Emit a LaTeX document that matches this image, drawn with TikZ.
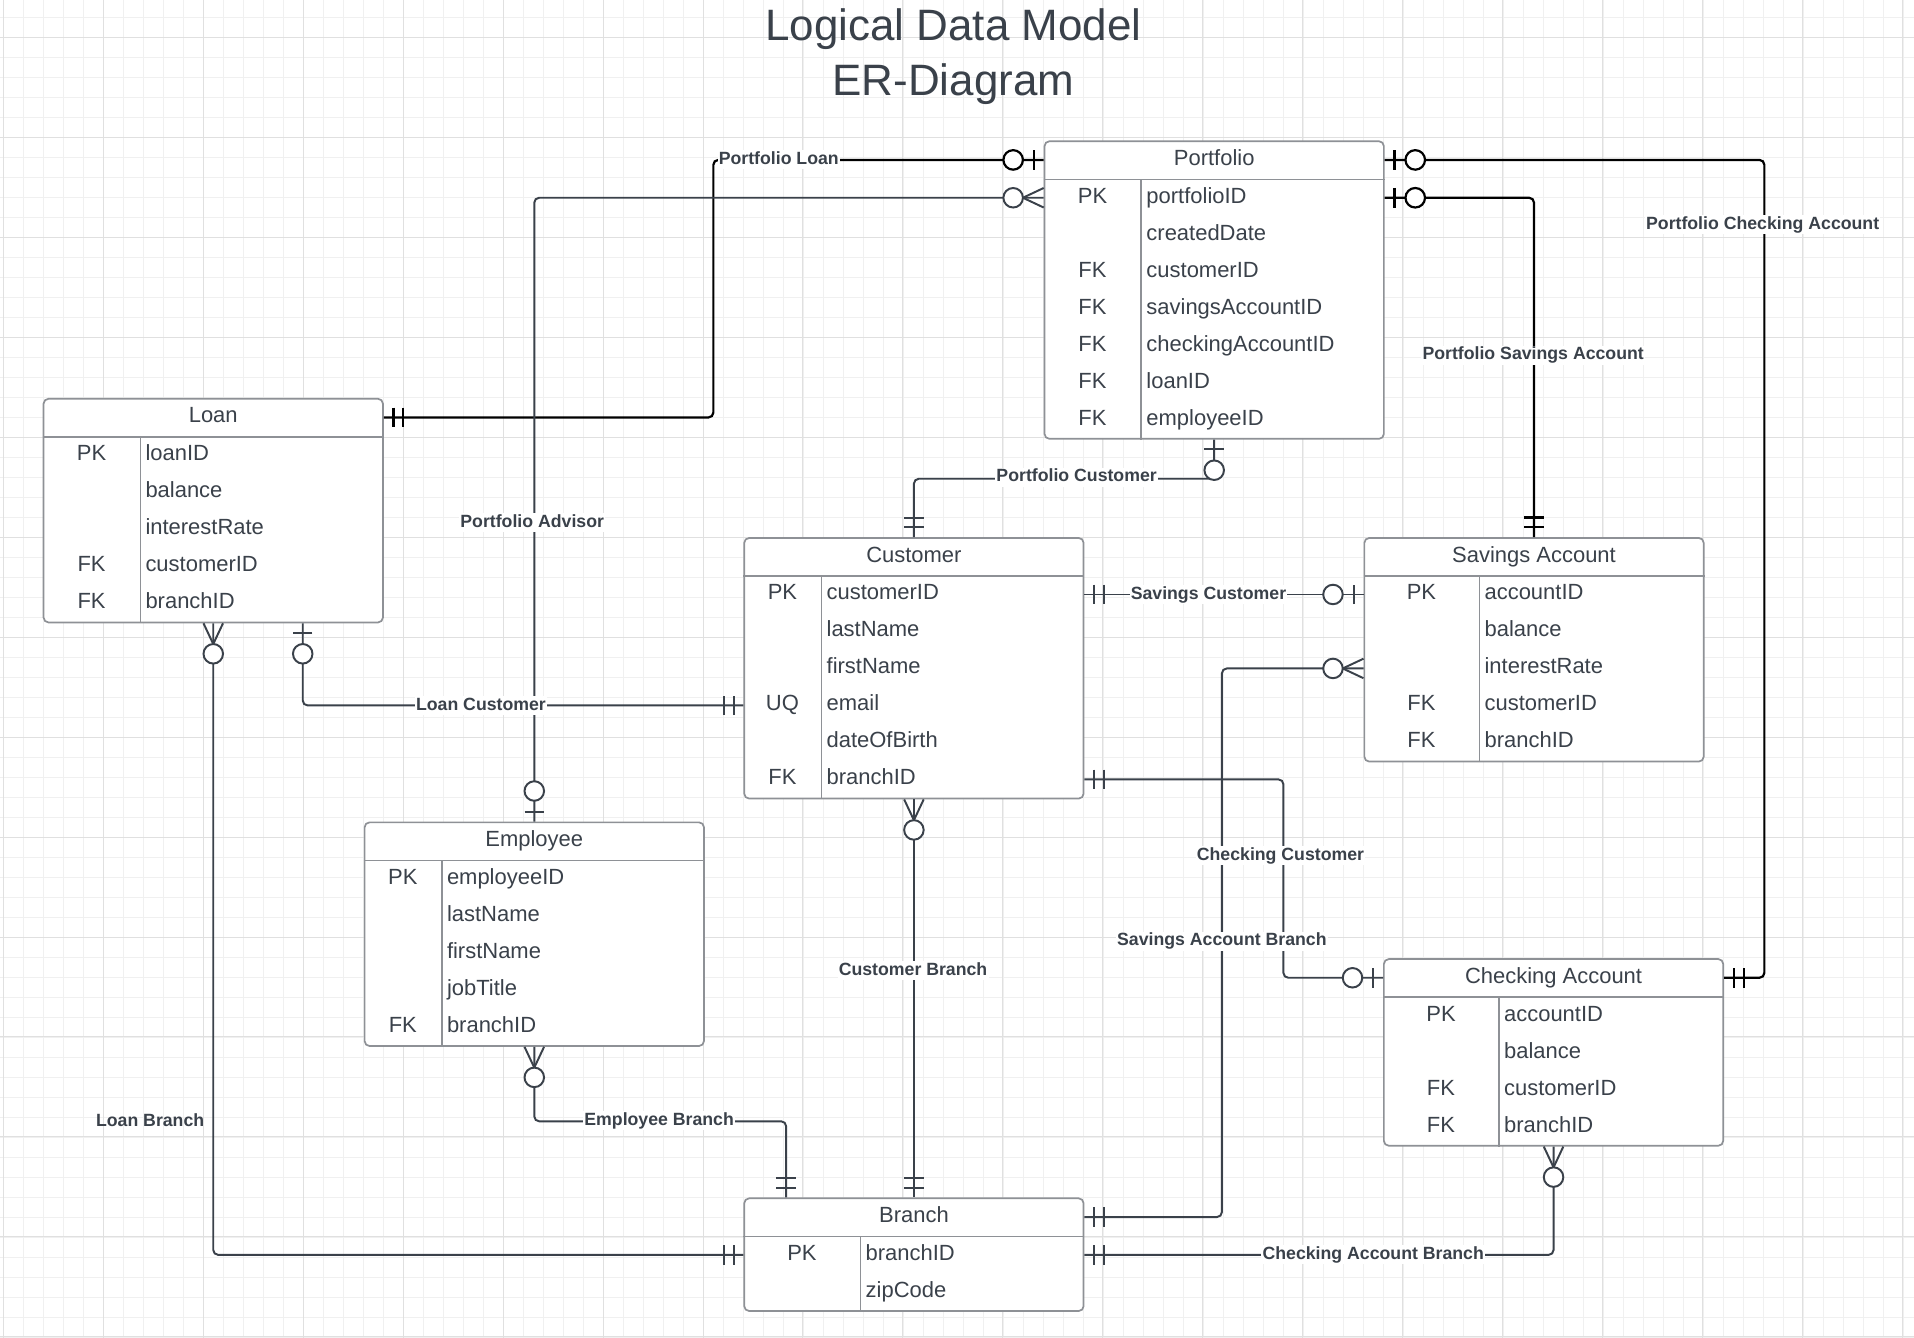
\documentclass[tikz,border=0pt]{standalone}
\usepackage{fontspec}
\setmainfont{Liberation Sans}
\usepackage{tikz}
\usetikzlibrary{calc}
\definecolor{ertext}{HTML}{3A414A}
\definecolor{erborder}{HTML}{8E9196}
\definecolor{erline}{HTML}{3A414A}
\definecolor{gridmin}{HTML}{F0F0F0}
\definecolor{gridmaj}{HTML}{E0E0E0}
\tikzset{
  gridminor/.style={draw=gridmin, line width=0.7pt},
  gridmajor/.style={draw=gridmaj, line width=0.8pt},
  maintitle/.style={anchor=base, text=ertext, font=\fontsize{36pt}{40pt}\selectfont},
  erent/.style={rectangle, anchor=north west, draw=erborder, fill=white, line width=1.4pt, rounded corners=4pt, inner sep=0pt},
  errule/.style={draw=erborder, line width=1.4pt},
  ertitle/.style={anchor=base, text=ertext, inner sep=0pt, font=\fontsize{18pt}{21pt}\selectfont},
  erkey/.style={anchor=base, text=ertext, inner sep=0pt, font=\fontsize{18pt}{21pt}\selectfont},
  erfield/.style={anchor=base west, text=ertext, inner sep=0pt, font=\fontsize{18pt}{21pt}\selectfont},
  rel/.style={draw=erline, line width=1.6pt, rounded corners=4pt},
  relbk/.style={draw=black, line width=1.8pt, rounded corners=4pt},
  erpen/.style={color=erline, line width=1.6pt},
  erpenbk/.style={color=black, line width=1.8pt},
  rellabel/.style={fill=white, text=ertext, inner sep=1pt, text height=10.5pt, text depth=3pt, font=\bfseries\fontsize{14.5pt}{17pt}\selectfont},
  erone/.pic={\draw (8,-8) -- (8,8) (16,-8) -- (16,8);},
  erzone/.pic={\draw (8,-8) -- (8,8); \draw[fill=white] (25,0) circle (8pt);},
  erzmany/.pic={\draw (0,-8) -- (17,0) -- (0,8); \draw[fill=white] (25,0) circle (8pt);},
}
% name, corner, width, height, key width, title, rows
\newcommand{\erbox}[7]{%
  \node[erent, minimum width=#3, minimum height=#4] (#1) at #2 {};
  \draw[errule] ([yshift=-32pt]#1.north west) -- ([yshift=-32pt]#1.north east);
  \draw[errule] ([xshift=#5, yshift=-32pt]#1.north west) -- ([xshift=#5]#1.south west);
  \node[ertitle] (#1-t) at ([yshift=-20.5pt]#1.north) {#6};
  \foreach \k/\f [count=\i from 0] in {#7} {
    \node[erkey] (#1-k\i) at ([xshift=#5/2, yshift=-51.5pt-30.3pt*\i]#1.north west) {\k};
    \node[erfield] (#1-f\i) at ([xshift=#5+4pt, yshift=-51.5pt-30.3pt*\i]#1.north west) {\f};
  }
}

\begin{document}
\begin{tikzpicture}[x=1pt,y=-1pt]
    \useasboundingbox (0,0) rectangle (1568,1096);
    \fill[white] (0,0) rectangle (1568,1096);

    % grid
    \foreach \i in {0,...,95} \draw[gridminor] ({2.46+16.385*\i},0) -- ({2.46+16.385*\i},1096);
    \foreach \j in {0,...,67} \draw[gridminor] (0,{-2.45+16.385*\j}) -- (1568,{-2.45+16.385*\j});
    \foreach \i in {0,...,19} \draw[gridmajor] ({2.46+81.92*\i},0) -- ({2.46+81.92*\i},1096);
    \foreach \j in {0,...,13} \draw[gridmajor] (0,{30.31+81.92*\j}) -- (1568,{30.31+81.92*\j});

    \node[maintitle] (ttl1) at (781,33) {Logical Data Model};
    \node[maintitle] (ttl2) at (781,78) {ER-Diagram};

    % entities
    \erbox{pf}{(855,115)}{278pt}{243.8pt}{80pt}{Portfolio}{PK/portfolioID, /createdDate, FK/customerID, FK/savingsAccountID, FK/checkingAccountID, FK/loanID, FK/employeeID}
    \erbox{ln}{(35,326)}{278pt}{183.2pt}{80pt}{Loan}{PK/loanID, /balance, /interestRate, FK/customerID, FK/branchID}
    \erbox{cu}{(609,440)}{278pt}{213.5pt}{64pt}{Customer}{PK/customerID, /lastName, /firstName, UQ/email, /dateOfBirth, FK/branchID}
    \erbox{sa}{(1117,440)}{278pt}{183.2pt}{95pt}{Savings Account}{PK/accountID, /balance, /interestRate, FK/customerID, FK/branchID}
    \erbox{em}{(298,673)}{278pt}{183.2pt}{64pt}{Employee}{PK/employeeID, /lastName, /firstName, /jobTitle, FK/branchID}
    \erbox{ca}{(1133,785)}{278pt}{152.9pt}{95pt}{Checking Account}{PK/accountID, /balance, FK/customerID, FK/branchID}
    \erbox{br}{(609,981)}{278pt}{92.3pt}{96pt}{Branch}{PK/branchID, /zipCode}

    % connector ends
    \coordinate (pf-wt) at ([yshift=-16pt]pf.north west);
    \coordinate (pf-w0) at ([yshift=-47pt]pf.north west);
    \coordinate (pf-et) at ([yshift=-16pt]pf.north east);
    \coordinate (pf-e0) at ([yshift=-47pt]pf.north east);
    \coordinate (pf-s) at (pf.south);
    \coordinate (ln-et) at ([yshift=-16pt]ln.north east);
    \coordinate (ln-s1) at (ln.south);
    \coordinate (ln-s2) at ([xshift=213pt]ln.south west);
    \coordinate (cu-n) at (cu.north);
    \coordinate (cu-e0) at ([yshift=-47pt]cu.north east);
    \coordinate (cu-w3) at ([yshift=-137.9pt]cu.north west);
    \coordinate (cu-e5) at ([yshift=-198.5pt]cu.north east);
    \coordinate (cu-s) at (cu.south);
    \coordinate (sa-n) at (sa.north);
    \coordinate (sa-w0) at ([yshift=-47pt]sa.north west);
    \coordinate (sa-w2) at ([yshift=-107.6pt]sa.north west);
    \coordinate (em-n) at (em.north);
    \coordinate (em-s) at (em.south);
    \coordinate (ca-wt) at ([yshift=-16pt]ca.north west);
    \coordinate (ca-et) at ([yshift=-16pt]ca.north east);
    \coordinate (ca-s) at (ca.south);
    \coordinate (br-n) at (br.north);
    \coordinate (br-n2) at ([xshift=35pt]br.north west);
    \coordinate (br-et) at ([yshift=-16pt]br.north east);
    \coordinate (br-e0) at ([yshift=-47pt]br.north east);
    \coordinate (br-w0) at ([yshift=-47pt]br.north west);

    % relationships
    \draw[relbk] (ln-et) -- ++(270,0) |- (pf-wt);
    \draw[rel] (pf-w0) -| (em-n);
    \draw[relbk] (pf-et) -- ++(311,0) |- (ca-et);
    \draw[relbk] (pf-e0) -| (sa-n);
    \draw[rel] (pf-s) -- ++(0,32) -| (cu-n);
    \draw[rel] (cu-e0) -- (sa-w0);
    \draw[rel] (ln-s2) |- (cu-w3);
    \draw[rel] (cu-e5) -- ++(163,0) |- (ca-wt);
    \draw[rel] (sa-w2) -- ++(-116,0) |- (br-et);
    \draw[rel] (cu-s) -- (br-n);
    \draw[rel] (ln-s1) |- (br-w0);
    \draw[rel] (em-s) -- ++(0,61) -| (br-n2);
    \draw[rel] (ca-s) |- (br-e0);

    % cardinalities
    \pic[erpenbk] at (ln-et) {erone};
    \pic[erpenbk, rotate=180] at (pf-wt) {erzone};
    \pic[erpen, rotate=180] at (pf-w0) {erzmany};
    \pic[erpen, rotate=90] at (em-n) {erzone};
    \pic[erpenbk] at (pf-et) {erzone};
    \pic[erpenbk] at (ca-et) {erone};
    \pic[erpenbk] at (pf-e0) {erzone};
    \pic[erpenbk, rotate=90] at (sa-n) {erone};
    \pic[erpen, rotate=-90] at (pf-s) {erzone};
    \pic[erpen, rotate=90] at (cu-n) {erone};
    \pic[erpen] at (cu-e0) {erone};
    \pic[erpen, rotate=180] at (sa-w0) {erzone};
    \pic[erpen, rotate=-90] at (ln-s2) {erzone};
    \pic[erpen, rotate=180] at (cu-w3) {erone};
    \pic[erpen] at (cu-e5) {erone};
    \pic[erpen, rotate=180] at (ca-wt) {erzone};
    \pic[erpen, rotate=180] at (sa-w2) {erzmany};
    \pic[erpen] at (br-et) {erone};
    \pic[erpen, rotate=-90] at (cu-s) {erzmany};
    \pic[erpen, rotate=90] at (br-n) {erone};
    \pic[erpen, rotate=-90] at (ln-s1) {erzmany};
    \pic[erpen, rotate=180] at (br-w0) {erone};
    \pic[erpen, rotate=-90] at (em-s) {erzmany};
    \pic[erpen, rotate=90] at (br-n2) {erone};
    \pic[erpen, rotate=-90] at (ca-s) {erzmany};
    \pic[erpen] at (br-e0) {erone};

    % relationship names
    \node[rellabel] (l-pl) at (638,131) {Portfolio Loan};
    \node[rellabel] (l-pa) at (436,428) {Portfolio Advisor};
    \node[rellabel] (l-pc) at (1444,184) {Portfolio Checking Account};
    \node[rellabel] (l-ps) at (1256,291) {Portfolio Savings Account};
    \node[rellabel] (l-pcu) at (882,391) {Portfolio Customer};
    \node[rellabel] (l-sc) at (990,487) {Savings Customer};
    \node[rellabel] (l-lc) at (394,578) {Loan Customer};
    \node[rellabel] (l-cc) at (1049,701) {Checking Customer};
    \node[rellabel] (l-sab) at (1001,771) {Savings Account Branch};
    \node[rellabel] (l-cb) at (748,795) {Customer Branch};
    \node[rellabel, fill=none] (l-lb) at (123,919) {Loan Branch};
    \node[rellabel] (l-eb) at (540,918) {Employee Branch};
    \node[rellabel] (l-cab) at (1125,1028) {Checking Account Branch};
\end{tikzpicture}
\end{document}
